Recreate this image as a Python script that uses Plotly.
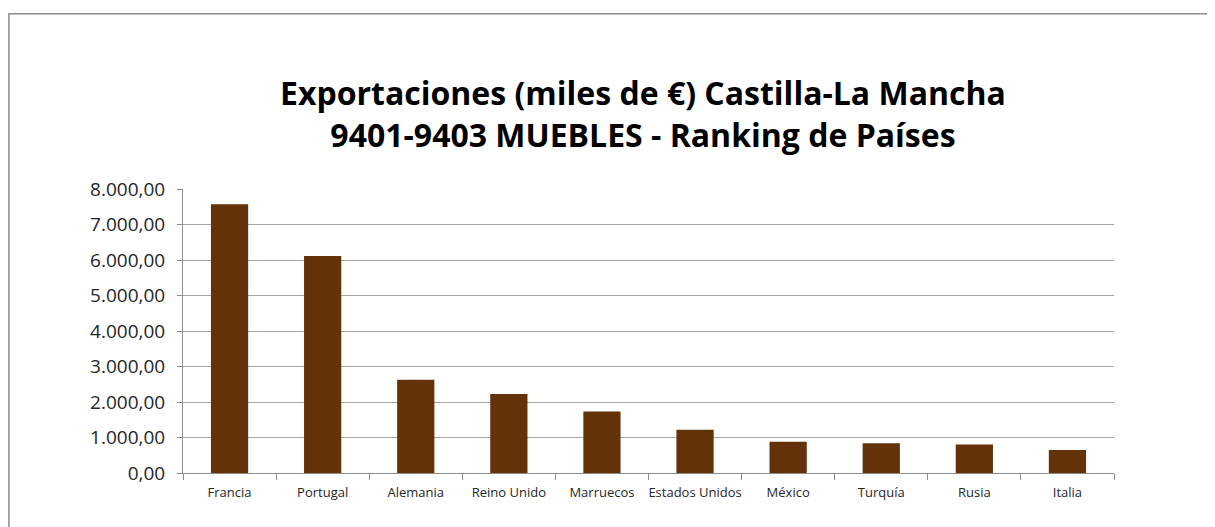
import plotly.graph_objects as go

paises = ['Francia', 'Portugal', 'Alemania', 'Reino Unido', 'Marruecos',
          'Estados Unidos', 'México', 'Turquía', 'Rusia', 'Italia']
exportaciones = [7570, 6110, 2630, 2225, 1735, 1220, 880, 840, 805, 645]
y_ticks = [0, 1000, 2000, 3000, 4000, 5000, 6000, 7000, 8000]

fuente = 'Open Sans, sans-serif'

fig = go.Figure()

fig.add_trace(go.Bar(
    x=paises,
    y=exportaciones,
    marker=dict(color='#633208', line=dict(width=0)),
    width=0.4,
))

fig.update_layout(
    width=1215,
    height=527,
    paper_bgcolor='white',
    plot_bgcolor='white',
    margin=dict(l=175, r=109, t=181, b=62),
    separators=',.',
    showlegend=False,
    title=dict(
        text='Exportaciones (miles de €) Castilla-La Mancha<br>9401-9403 MUEBLES - Ranking de Países',
        x=0.5226, xanchor='center',
        y=0.816, yanchor='middle',
        font=dict(family=fuente, size=32, color='black', weight='bold'),
    ),
    xaxis=dict(
        automargin=False,
        tickangle=0,
        showline=True, linecolor='#8c8c8c', linewidth=1,
        ticks='outside', tickson='boundaries', ticklen=6, tickcolor='#8c8c8c',
        ticklabelstandoff=7,
        tickfont=dict(family=fuente, size=13, color='#262626'),
        showgrid=False,
    ),
    yaxis=dict(
        automargin=False,
        range=[0, 8000],
        tickvals=y_ticks,
        tickformat=',.2f',
        showline=True, linecolor='#8c8c8c', linewidth=1,
        ticks='outside', ticklen=5, tickcolor='#8c8c8c',
        ticklabelstandoff=8,
        gridcolor='#a6a6a6', gridwidth=1,
        zeroline=False,
        tickfont=dict(family=fuente, size=19, color='#262626'),
    ),
    shapes=[dict(
        type='rect', xref='paper', yref='paper',
        x0=-0.187, x1=1.2, y0=-0.3, y1=1.617,
        line=dict(color='#8c8c8c', width=1.5),
        fillcolor='rgba(0,0,0,0)', layer='below',
    )],
)

fig.write_html("out.html")
